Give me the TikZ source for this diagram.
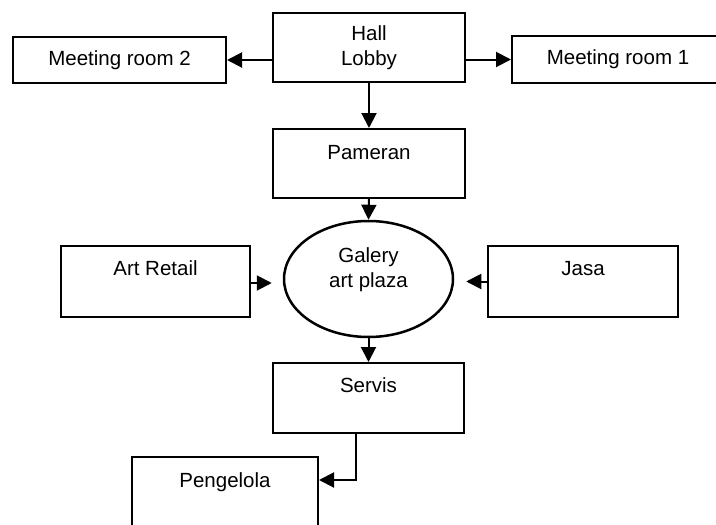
\documentclass[tikz,border=0pt]{standalone}
\usepackage{fontspec}
\setmainfont{Liberation Sans}
\usetikzlibrary{arrows.meta,shapes.geometric}
\begin{document}
\begin{tikzpicture}[x=1pt,y=-1pt,
  box/.style={draw, line width=2pt, rectangle, inner sep=0pt, font=\fontsize{20.5}{25}\selectfont},
  conn/.style={line width=2pt, -{Triangle[length=15pt,width=15pt]}},
  lbl/.style={inner sep=0pt, font=\fontsize{20.5}{25}\selectfont, align=center}]
\useasboundingbox (0,0) rectangle (716,525);
% boxes
\node[box, minimum width=192pt, minimum height=69pt, align=center] (hall) at (369,47.5) {Hall\\Lobby};
\node[box, minimum width=213pt, minimum height=46pt] (mr2) at (119.5,60) {Meeting room 2};
\node[box, minimum width=212pt, minimum height=47pt] (mr1) at (618,59.5) {Meeting room 1};
\node[box, minimum width=192pt, text height=30pt, text depth=39pt] (pam) at (369,163.5) {Pameran};
\node[draw, ellipse, line width=2.5pt, minimum width=169pt, minimum height=116pt, inner sep=0pt] (gal) at (368.5,279) {};
\node[lbl] (galtext) at (368.5,270) {Galery\\art plaza};
\node[box, minimum width=189pt, text height=29pt, text depth=42pt] (ar) at (155.5,281.5) {Art Retail};
\node[box, minimum width=190pt, text height=29pt, text depth=42pt] (js) at (583,281.5) {Jasa};
\node[box, minimum width=191pt, text height=29pt, text depth=41pt] (sv) at (368.5,398) {Servis};
\node[box, minimum width=186pt, text height=30pt, text depth=53pt] (pg) at (225,498.5) {Pengelola};
% connectors
\draw[conn] (mr2.east -| hall.west) -- (mr2.east);
\draw[conn] (mr1.west -| hall.east) -- (mr1.west);
\draw[conn] (hall.south) -- (pam.north);
\draw[conn] (pam.south) -- (gal.north);
\draw[conn, shorten >=11pt] ([yshift=-1.5pt]ar.east) -- ([yshift=-1.5pt]ar.east -| gal.west);
\draw[conn, shorten >=12pt] (js.west) -- (js.west -| gal.east);
\draw[conn] (gal.south) -- (sv.north);
\draw[conn] ([xshift=-12.5pt]sv.south) |- ([yshift=18.5pt]pg.east);
\end{tikzpicture}
\end{document}
